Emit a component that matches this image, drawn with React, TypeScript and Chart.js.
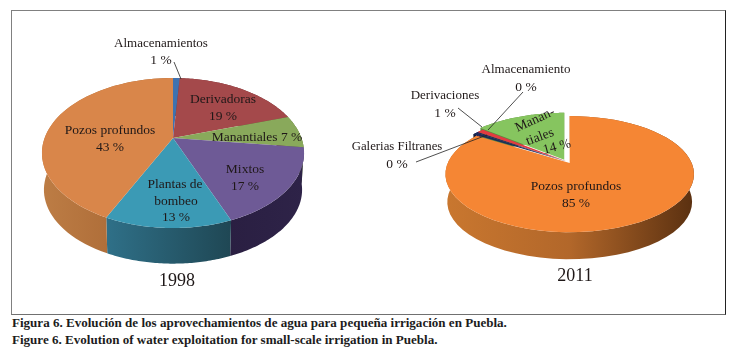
import React, { useEffect, useRef } from "react";
import { Chart, registerables } from "chart.js";

Chart.register(...registerables);

const categories1998 = ["Almacenamientos", "Derivadoras", "Manantiales", "Mixtos", "Plantas de bombeo", "Pozos profundos"];
const values1998 = [1, 19, 7, 17, 13, 43];
const colors1998 = ["#3f72b0", "#a4494b", "#89a95b", "#6e5a96", "#3b9ab5", "#d9864a"];
const walls1998 = [
  ["#2c4f7c", "#2c4f7c"], ["#6f3032", "#6f3032"], ["#5d7238", "#5d7238"],
  ["#2a1f42", "#2e2348"], ["#2f7088", "#1f4754"], ["#bd7d45", "#a2602e"],
];

const categories2011 = ["Pozos profundos", "Galerias Filtranes", "Almacenamiento", "Derivaciones", "Manantiales"];
const values2011 = [84, 0.6, 0.4, 1, 14];
const colors2011 = ["#f58634", "#1b2a5a", "#23285f", "#e23b40", "#86c55f"];
const walls2011 = [
  ["#c9772f", "#b2672a", "#5a3010"], ["#111a3a", "#111a3a"], ["#222560", "#222560"],
  ["#8f2427", "#8f2427"], ["#5d8a40", "#5d8a40"],
];

const INK = "#1f1818";
const SERIF = "'Liberation Serif', serif";

type Label = { t: string; x: number; y: number; size?: number; rot?: number };
type Seg = [number, number, number, number];

const labels1998: Label[] = [
  { t: "Almacenamientos", x: 161, y: 44, size: 13 },
  { t: "1 %", x: 161, y: 60 },
  { t: "Derivadoras", x: 223, y: 99 },
  { t: "19 %", x: 223, y: 116 },
  { t: "Manantiales 7 %", x: 257, y: 137 },
  { t: "Mixtos", x: 245, y: 169 },
  { t: "17 %", x: 245, y: 186 },
  { t: "Plantas de", x: 175, y: 184 },
  { t: "bombeo", x: 176, y: 201 },
  { t: "13 %", x: 176, y: 217 },
  { t: "Pozos profundos", x: 110, y: 130 },
  { t: "43 %", x: 110, y: 147 },
  { t: "1998", x: 177, y: 281, size: 18 },
];
const labels2011: Label[] = [
  { t: "Almacenamiento", x: 526, y: 70, size: 13 },
  { t: "0 %", x: 526, y: 87 },
  { t: "Derivaciones", x: 445, y: 96, size: 13 },
  { t: "1 %", x: 445, y: 113 },
  { t: "Galerias Filtranes", x: 397, y: 147, size: 12.8 },
  { t: "0 %", x: 397, y: 164 },
  { t: "Pozos profundos", x: 576, y: 186 },
  { t: "85 %", x: 576, y: 203 },
  { t: "Manan-", x: 535, y: 120, rot: -25 },
  { t: "tiales", x: 540, y: 137, rot: -20 },
  { t: "14 %", x: 557, y: 147, rot: -15 },
  { t: "2011", x: 575, y: 276, size: 18 },
];
const leaders1998: Seg[] = [[174, 62, 181, 79]];
const leaders2011: Seg[] = [[523, 92, 488, 130], [458, 108, 482, 127], [416, 162, 487, 135]];

const perspectivePie = {
  id: "perspectivePie",
  beforeDatasetDraw(chart: any, args: any, o: any) {
    const ctx: CanvasRenderingContext2D = chart.ctx;
    const arcs = chart.getDatasetMeta(args.index).data;
    const rim = (a: number, ax: number, ay: number) => {
      const d = 1 - o.p * Math.sin(a);
      return [ax + (o.rx * Math.cos(a)) / d, ay + (o.ry * Math.sin(a)) / d];
    };
    const geo = arcs.map((el: any) => {
      const mid = (el.startAngle + el.endAngle) / 2;
      const off = el.options.offset || 0;
      return {
        a0: el.startAngle,
        a1: el.endAngle,
        ax: o.ax + off * Math.cos(mid),
        ay: o.ay + off * 0.3 * Math.sin(mid),
      };
    });
    const N = 60;
    ctx.save();
    ctx.translate(-o.left, 0);
    // walls
    geo.forEach((g: any, i: number) => {
      const top: number[][] = [];
      for (let k = 0; k <= N; k++) top.push(rim(g.a0 + ((g.a1 - g.a0) * k) / N, g.ax, g.ay));
      const xs = top.map((q) => q[0]);
      const x0 = Math.min(...xs);
      const x1 = Math.max(...xs);
      const grad = ctx.createLinearGradient(x0, 0, x1 + 0.01, 0);
      const st = o.walls[i];
      st.forEach((c: string, j: number) => grad.addColorStop(j / (st.length - 1), c));
      ctx.beginPath();
      top.forEach((q, k) => (k ? ctx.lineTo(q[0], q[1]) : ctx.moveTo(q[0], q[1])));
      for (let k = N; k >= 0; k--) {
        const q = top[k];
        ctx.lineTo(g.ax + (q[0] - g.ax) * o.shrink, g.ay + (q[1] - g.ay) * o.shrink + o.depth);
      }
      ctx.closePath();
      ctx.fillStyle = grad;
      ctx.fill();
    });
    // top faces
    geo.forEach((g: any, i: number) => {
      ctx.beginPath();
      ctx.moveTo(g.ax, g.ay);
      for (let k = 0; k <= N; k++) {
        const q = rim(g.a0 + ((g.a1 - g.a0) * k) / N, g.ax, g.ay);
        ctx.lineTo(q[0], q[1]);
      }
      ctx.closePath();
      ctx.fillStyle = arcs[i].options.backgroundColor;
      ctx.fill();
    });
    ctx.restore();
    return false;
  },
  afterDatasetsDraw(chart: any, _args: any, o: any) {
    const ctx: CanvasRenderingContext2D = chart.ctx;
    ctx.save();
    ctx.translate(-o.left, 0);
    ctx.strokeStyle = "#222";
    ctx.lineWidth = 0.8;
    o.leaders.forEach((s: Seg) => {
      ctx.beginPath();
      ctx.moveTo(s[0], s[1]);
      ctx.lineTo(s[2], s[3]);
      ctx.stroke();
    });
    ctx.fillStyle = INK;
    ctx.textAlign = "center";
    ctx.textBaseline = "middle";
    o.labels.forEach((l: Label) => {
      ctx.save();
      ctx.translate(l.x, l.y);
      if (l.rot) ctx.rotate((l.rot * Math.PI) / 180);
      ctx.font = `${l.size || 13.5}px ${SERIF}`;
      ctx.fillText(l.t, 0, 0);
      ctx.restore();
    });
    ctx.restore();
  },
};

function Pie(props: {
  left: number; width: number; height: number; categories: string[]; values: number[];
  colors: string[]; offsets?: number[]; geometry: any;
}) {
  const ref = useRef<HTMLCanvasElement>(null);
  useEffect(() => {
    const chart = new Chart(ref.current!, {
      type: "pie",
      data: {
        labels: props.categories,
        datasets: [{ data: props.values, backgroundColor: props.colors, borderWidth: 0, offset: props.offsets || 0 }],
      },
      options: {
        responsive: false,
        animation: false,
        events: [],
        plugins: {
          legend: { display: false },
          tooltip: { enabled: false },
          perspectivePie: { left: props.left, ...props.geometry },
        } as any,
      },
      plugins: [perspectivePie as any],
    });
    return () => chart.destroy();
  }, []);
  return (
    <canvas
      ref={ref}
      width={props.width}
      height={props.height}
      style={{ position: "absolute", left: props.left, top: 0, width: props.width, height: props.height }}
    />
  );
}

const capStyle: React.CSSProperties = {
  position: "absolute",
  left: 12,
  fontFamily: SERIF,
  fontWeight: "bold",
  fontSize: 13.05,
  lineHeight: "16px",
  color: "#1c1c1c",
  whiteSpace: "nowrap",
};

export default function App() {
  return (
    <div style={{ position: "fixed", left: 0, top: 0, width: 734, height: 352, background: "#fff", overflow: "hidden" }}>
      <div
        style={{
          position: "absolute", left: 11, top: 10, width: 713, height: 303,
          borderTop: "1px solid #808080", borderLeft: "1px solid #808080",
          borderBottom: "1px solid #707070", borderRight: "1px solid #222",
        }}
      />
      <Pie
        left={14}
        width={330}
        height={298}
        categories={categories1998}
        values={values1998}
        colors={colors1998}
        geometry={{ ax: 173, ay: 138, rx: 128.4, ry: 72, p: 0.2, depth: 37, shrink: 0.985, walls: walls1998, labels: labels1998, leaders: leaders1998 }}
      />
      <Pie
        left={344}
        width={378}
        height={298}
        categories={categories2011}
        values={values2011}
        colors={colors2011}
        offsets={[6, 0, 0, 0, 6]}
        geometry={{ ax: 566.8, ay: 161.5, rx: 122, ry: 56, p: 0.19, depth: 28, shrink: 0.985, walls: walls2011, labels: labels2011, leaders: leaders2011 }}
      />
      <div style={{ ...capStyle, top: 315 }}>Figura 6. Evolución de los aprovechamientos de agua para pequeña irrigación en Puebla.</div>
      <div style={{ ...capStyle, top: 332 }}>Figure 6. Evolution of water exploitation for small-scale irrigation in Puebla.</div>
    </div>
  );
}
